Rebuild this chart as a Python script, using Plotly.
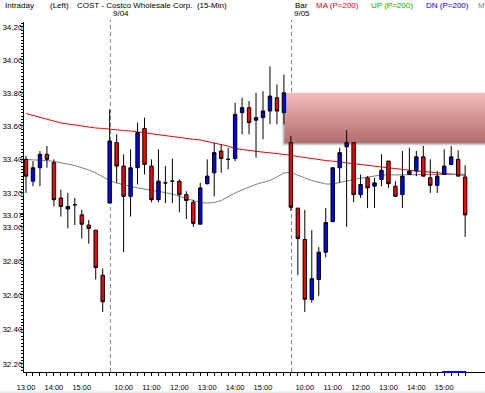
import plotly.graph_objects as go

# ---------------- data ----------------
day_times = ["09:30", "09:45", "10:00", "10:15", "10:30", "10:45", "11:00", "11:15",
             "11:30", "11:45", "12:00", "12:15", "12:30", "12:45", "13:00", "13:15",
             "13:30", "13:45", "14:00", "14:15", "14:30", "14:45", "15:00", "15:15",
             "15:30", "15:45"]
dates = ["9/03"] * 12 + ["9/04"] * 26 + ["9/05"] * 26
times = day_times[14:] + day_times + day_times

opens = [33.40, 33.27, 33.35, 33.43, 33.38, 33.17, 33.105, 33.13, 33.07, 33.01, 32.98, 32.715,
         33.14, 33.50, 33.36, 33.18, 33.35, 33.585, 33.36, 33.16, 33.26, 33.27, 33.27, 33.19,
         33.145, 33.015, 33.255, 33.32, 33.45, 33.40, 33.405, 33.68, 33.71, 33.635, 33.65, 33.69,
         33.77, 33.68,
         33.50, 33.11, 32.925, 32.573, 32.69, 32.85, 33.03, 33.35, 33.475, 33.50, 33.19, 33.29,
         33.24, 33.28, 33.39, 33.24, 33.19, 33.31, 33.33, 33.415, 33.29, 33.245, 33.31, 33.37,
         33.40, 33.295]
highs = [33.42, 33.39, 33.45, 33.48, 33.40, 33.22, 33.20, 33.17, 33.10, 33.04, 32.98, 32.755,
         33.70, 33.55, 33.43, 33.46, 33.62, 33.65, 33.40, 33.46, 33.36, 33.405, 33.28, 33.21,
         33.16, 33.26, 33.40, 33.50, 33.49, 33.47, 33.74, 33.77, 33.75, 33.80, 33.81, 33.96,
         33.85, 33.91,
         33.54, 33.11, 33.10, 32.98, 32.88, 33.11, 33.35, 33.47, 33.575, 33.50, 33.31, 33.30,
         33.29, 33.43, 33.39, 33.27, 33.45, 33.47, 33.45, 33.48, 33.40, 33.33, 33.46, 33.48,
         33.455, 33.365]
lows = [33.20, 33.24, 33.24, 33.35, 33.12, 33.06, 32.99, 33.01, 32.93, 32.90, 32.69, 32.50,
        33.14, 33.26, 32.85, 33.06, 33.25, 33.31, 33.145, 33.145, 33.14, 33.14, 33.085, 33.045,
        33.00, 33.015, 33.25, 33.18, 33.32, 33.34, 33.39, 33.55, 33.55, 33.41, 33.52, 33.61,
        33.61, 33.61,
        33.095, 32.715, 32.50, 32.555, 32.595, 32.82, 33.03, 33.26, 33.00, 33.145, 33.17, 33.11,
        33.11, 33.24, 33.23, 33.175, 33.11, 33.31, 33.30, 33.30, 33.20, 33.20, 33.31, 33.365,
        33.30, 32.94]
closes = [33.30, 33.35, 33.43, 33.40, 33.16, 33.12, 33.12, 33.13, 33.015, 32.99, 32.76, 32.56,
          33.51, 33.36, 33.18, 33.35, 33.56, 33.37, 33.16, 33.27, 33.26, 33.27, 33.19, 33.155,
          33.02, 33.23, 33.30, 33.44, 33.405, 33.40, 33.67, 33.71, 33.62, 33.65, 33.69, 33.78,
          33.69, 33.80,
          33.115, 32.93, 32.575, 32.695, 32.85, 33.025, 33.35, 33.44, 33.50, 33.19, 33.25, 33.23,
          33.26, 33.335, 33.255, 33.18, 33.30, 33.33, 33.415, 33.30, 33.245, 33.30, 33.36, 33.415,
          33.30, 33.07]

ma_red = [33.675, 33.663, 33.651, 33.639, 33.627, 33.618, 33.612, 33.606, 33.598, 33.592, 33.588,
          33.585, 33.580, 33.576, 33.573, 33.570, 33.564, 33.558, 33.555, 33.549, 33.543, 33.537,
          33.531, 33.525, 33.520, 33.516, 33.507, 33.497, 33.488, 33.479, 33.464, 33.458, 33.452,
          33.447, 33.443, 33.439, 33.435, 33.431, 33.425, 33.417, 33.410, 33.403, 33.398, 33.393,
          33.389, 33.384, 33.379, 33.374, 33.368, 33.362, 33.356, 33.351, 33.347, 33.343, 33.339,
          33.335, 33.331, 33.327, 33.324, 33.321, 33.317, 33.314, 33.310, 33.305]
ma_gray = [33.399, 33.398, 33.396, 33.393, 33.387, 33.381, 33.372, 33.363, 33.352, 33.337, 33.319,
           33.298, 33.274, 33.259, 33.247, 33.239, 33.230, 33.221, 33.215, 33.209, 33.203, 33.194,
           33.179, 33.167, 33.155, 33.143, 33.140, 33.143, 33.155, 33.179, 33.200, 33.218, 33.236,
           33.251, 33.263, 33.274, 33.295, 33.319, 33.323, 33.304, 33.289, 33.274, 33.263, 33.253,
           33.253, 33.263, 33.271, 33.280, 33.288, 33.295, 33.301, 33.307, 33.307, 33.307, 33.309,
           33.311, 33.311, 33.311, 33.311, 33.311, 33.311, 33.311, 33.311, 33.311]

y_ticks = [32.20, 32.40, 32.60, 32.80, 33.00, 33.20, 33.40, 33.60, 33.80, 34.00, 34.20]
zone_lo, zone_hi = 33.50, 33.80      # shaded resistance zone
zone_start_bar = 37                  # zone begins at this bar
last_hour_bars = (60, 63)            # blue marker on the time axis

header_left = ["Intraday", "(Left)", "COST - Costco Wholesale Corp.  (15-Min)"]
legend_items = [("MA (P=200)", "#ff0000"), ("UP (P=200)", "#00b400"),
                ("DN (P=200)", "#0000ff"), ("M", "#808080")]

# ---------------- layout helpers ----------------
W, H = 485, 393
L, R, T, B = 24, 0, 22, 21
PW, PH = W - L - R, H - T - B


def px(x):
    return (x - L) / PW


def py(y):
    return (H - B - y) / PH


xidx = list(range(len(times)))
FONT = "Liberation Sans, Arial, sans-serif"

fig = go.Figure()

fig.add_trace(go.Scatter(x=xidx, y=ma_red, mode="lines",
                         line=dict(color="#ff0000", width=1),
                         hoverinfo="skip", showlegend=False))
fig.add_trace(go.Scatter(x=xidx, y=ma_gray, mode="lines",
                         line=dict(color="#808080", width=1),
                         hoverinfo="skip", showlegend=False))
fig.add_trace(go.Candlestick(
    x=xidx, open=opens, high=highs, low=lows, close=closes,
    xaxis="x2", yaxis="y2",
    increasing=dict(fillcolor="#0000ff", line=dict(color="#000000", width=1)),
    decreasing=dict(fillcolor="#ff0000", line=dict(color="#000000", width=1)),
    whiskerwidth=0, hoverinfo="skip", showlegend=False))

hour_idx = [i for i, t in enumerate(times) if t.endswith(":00")]
hour_txt = [times[i] for i in hour_idx]

xr = [-0.29, 65.85]
yr = [1.507233, 1.534414]

tick_vals = y_ticks + [closes[-1]]
tick_txt = [f"{v:.2f}" for v in tick_vals]
minor_vals = [round(32.16 + 0.02 * k, 2) for k in range(104)]

fig.update_layout(
    width=W, height=H,
    margin=dict(l=L, r=R, t=T, b=B, pad=0),
    paper_bgcolor="white", plot_bgcolor="white",
    font=dict(family=FONT, size=8, color="black"),
    xaxis=dict(range=xr, showgrid=False, zeroline=False, showline=True,
               linecolor="black", linewidth=1, ticks="outside", ticklen=3,
               tickcolor="black", tickvals=hour_idx, ticktext=hour_txt,
               tickfont=dict(size=7.5, family=FONT), ticklabelstandoff=5,
               minor=dict(tickvals=xidx, ticks="outside", ticklen=3, tickcolor="black"),
               rangeslider=dict(visible=False)),
    yaxis=dict(type="log", range=yr, showgrid=False, zeroline=False, showline=True,
               linecolor="black", linewidth=1, ticks="outside", ticklen=3,
               tickcolor="black", tickvals=tick_vals, ticktext=tick_txt,
               tickfont=dict(size=8, family=FONT), ticklabelstandoff=-4,
               minor=dict(tickvals=minor_vals, ticks="outside", ticklen=2, tickcolor="black")),
    xaxis2=dict(range=xr, overlaying="x", visible=False, rangeslider=dict(visible=False)),
    yaxis2=dict(type="log", range=yr, overlaying="y", visible=False),
)

shapes = []
sep_idx = [i for i in range(1, len(times)) if dates[i] != dates[i - 1]]
# day separators (dashed)
for i in sep_idx:
    shapes.append(dict(type="line", xref="x", yref="paper", x0=i + 0.1, x1=i + 0.1,
                       y0=0, y1=py(20), layer="below",
                       line=dict(color="#808080", width=1, dash="4px,3px")))
# zone shadow
for k, a in enumerate([0.10, 0.15, 0.22]):
    d = 3 - k
    shapes.append(dict(type="rect", xref="x", yref="y",
                       x0=zone_start_bar + 0.15 - 0.15 * d, x1=80,
                       y0=zone_lo - 0.006 * d, y1=zone_hi - 0.006 * d,
                       fillcolor=f"rgba(40,20,20,{a})", line=dict(width=0), layer="below"))
# zone gradient
top_c = (244, 186, 186)
bot_c = (178, 110, 110)
N = 30
for k in range(N):
    t = (k + 0.5) / N
    c = tuple(round(top_c[j] + (bot_c[j] - top_c[j]) * t) for j in range(3))
    ya = zone_hi - (zone_hi - zone_lo) * k / N
    shapes.append(dict(type="rect", xref="x", yref="y",
                       x0=zone_start_bar + 0.15, x1=80, y0=zone_lo, y1=ya,
                       fillcolor=f"rgb{c}", line=dict(width=0), layer="below"))
# blue marker on time axis
shapes.append(dict(type="line", xref="x", yref="paper",
                   x0=last_hour_bars[0] - 0.3, x1=last_hour_bars[1] + 0.15, y0=0, y1=0,
                   line=dict(color="#0000ff", width=2), layer="above"))
# grey strip at page bottom
shapes.append(dict(type="rect", xref="paper", yref="paper", x0=px(0), x1=px(W),
                   y0=py(H), y1=py(391.3), fillcolor="#ebebeb", line=dict(width=0)))
fig.update_layout(shapes=shapes)

ann = []


def text(s, x, y, color="black", size=8):
    ann.append(dict(text=s, x=px(x), y=py(y), xref="paper", yref="paper",
                    xanchor="left", yanchor="middle", showarrow=False,
                    font=dict(family=FONT, size=size, color=color), borderpad=0))


text(header_left[0], 4, 5)
text(header_left[1], 49, 5)
text(header_left[2], 76, 5)
text("Bar", 294, 5)
text(dates[sep_idx[0]], 112, 14)
text(dates[sep_idx[1]], 293, 14)
lx = [315, 370, 425, 477]
for (s, c), x in zip(legend_items, lx):
    text(s, x, 5, color=c)
fig.update_layout(annotations=ann)

fig.write_html("out.html", config={"displayModeBar": False},
               post_script="document.body.style.margin='0px';")
